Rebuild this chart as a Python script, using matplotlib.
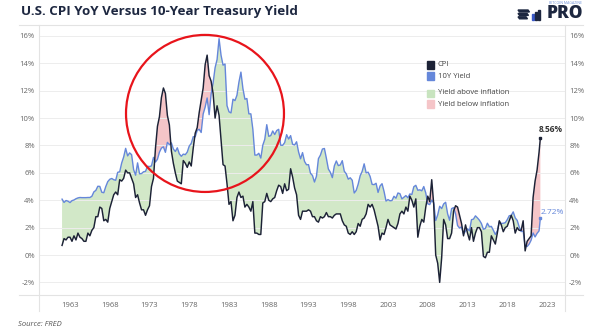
import numpy as np
import pandas as pd
import matplotlib
matplotlib.use("Agg")
import matplotlib.pyplot as plt
from matplotlib.lines import Line2D
from matplotlib.patches import Ellipse, Rectangle, Polygon

plt.rcParams['font.family'] = ['Open Sans', 'DejaVu Sans']

# Quarterly observations (Jan, Apr, Jul, Oct) from 1962 through Jan 2022, plus Mar 2022
cpi_yoy = [
    0.7, 1.2, 1.1, 1.3,   1.3, 1.0, 1.4, 1.1,   1.6, 1.3, 1.2, 1.0,   1.0, 1.6, 1.4, 1.8,
    2.0, 2.8, 2.8, 3.5,   3.4, 2.5, 2.6, 2.4,   3.4, 3.9, 4.4, 4.6,   4.4, 5.5, 5.4, 5.6,
    6.2, 6.0, 6.0, 5.6,   5.2, 4.2, 4.4, 3.8,   3.3, 3.3, 2.9, 3.3,   3.6, 5.0, 5.6, 7.8,
    9.4, 10.1, 11.5, 12.2, 11.8, 10.2, 9.5, 7.6, 6.7, 6.0, 5.4, 5.3,  5.2, 6.9, 6.7, 6.4,
    6.8, 6.5, 7.8, 8.9,   9.3, 10.4, 11.3, 12.2, 13.9, 14.6, 13.1, 12.7, 11.8, 10.0, 10.9, 10.2,
    8.4, 6.6, 6.5, 5.2,   3.7, 3.9, 2.5, 2.9,   4.2, 4.6, 4.2, 4.3,   3.5, 3.7, 3.5, 3.2,
    3.9, 1.6, 1.6, 1.5,   1.5, 3.8, 3.9, 4.5,   4.0, 3.9, 4.1, 4.2,   4.7, 5.1, 5.0, 4.5,
    5.2, 4.7, 4.8, 6.3,   5.7, 4.9, 4.4, 2.9,   2.6, 3.2, 3.2, 3.2,   3.3, 3.2, 2.8, 2.8,
    2.5, 2.4, 2.8, 2.7,   2.8, 3.1, 2.8, 2.8,   2.7, 2.9, 3.0, 3.0,   3.0, 2.5, 2.2, 2.1,
    1.6, 1.5, 1.7, 1.5,   1.7, 2.3, 2.1, 2.6,   2.7, 3.0, 3.7, 3.5,   3.7, 3.3, 2.7, 2.1,
    1.1, 1.6, 1.5, 2.0,   2.6, 2.2, 2.1, 2.0,   1.9, 2.3, 3.0, 3.2,   3.0, 3.5, 3.2, 4.3,
    4.0, 3.5, 4.1, 1.3,   2.1, 2.6, 2.4, 3.5,   4.3, 3.9, 5.5, 3.7,   0.0, -0.6, -2.0, -0.2,
    2.6, 2.2, 1.2, 1.2,   1.6, 3.2, 3.6, 3.5,   2.9, 2.3, 1.4, 2.2,   1.6, 1.1, 2.0, 1.0,
    1.6, 2.0, 2.0, 1.7,   -0.1, -0.2, 0.2, 0.2, 1.4, 1.1, 0.8, 1.6,   2.5, 2.2, 1.7, 2.0,
    2.1, 2.5, 2.9, 2.5,   1.6, 2.0, 1.8, 1.8,   2.5, 0.3, 1.0, 1.2,   1.4, 4.2, 5.4, 6.2,
    7.5, 8.56,
]

treasury_10y = [
    4.08, 3.84, 3.98, 3.93,  3.83, 3.97, 4.02, 4.11,  4.17, 4.20, 4.19, 4.19,  4.19, 4.20, 4.20, 4.29,
    4.61, 4.72, 5.02, 5.01,  4.58, 4.55, 5.00, 5.36,  5.53, 5.59, 5.50, 5.46,  6.04, 6.08, 6.72, 7.16,
    7.79, 7.24, 7.46, 7.33,  6.24, 5.83, 6.73, 5.93,  5.95, 6.08, 6.11, 6.48,  6.46, 6.51, 7.13, 6.79,
    6.99, 7.51, 7.81, 7.90,  7.50, 8.23, 8.06, 8.19,  7.74, 7.56, 7.83, 7.39,  7.21, 7.37, 7.33, 7.52,
    7.96, 8.15, 8.64, 8.64,  9.10, 9.18, 8.95, 10.30, 10.80, 11.47, 10.25, 11.75, 12.57, 13.68, 14.28, 15.80,
    14.59, 13.87, 13.95, 10.91, 10.46, 10.38, 11.38, 11.28, 11.67, 12.63, 13.36, 12.16, 11.38, 11.43, 10.31, 10.31,
    9.19, 7.30, 7.30, 7.43,  7.08, 8.02, 8.45, 9.52,  8.67, 8.72, 9.06, 8.80,  9.09, 9.18, 8.02, 8.01,
    8.21, 8.79, 8.47, 8.72,  8.09, 8.04, 8.27, 7.53,  7.03, 7.48, 6.84, 6.59,  6.60, 5.97, 5.81, 5.33,
    5.75, 7.04, 7.30, 7.74,  7.78, 7.06, 6.28, 6.04,  5.65, 6.51, 6.87, 6.53,  6.58, 6.89, 6.12, 5.93,
    5.54, 5.64, 5.46, 4.53,  4.72, 5.18, 5.79, 6.11,  6.66, 6.00, 6.05, 5.74,  5.16, 5.14, 5.24, 4.57,
    5.04, 5.21, 4.65, 3.94,  4.05, 3.96, 3.98, 4.29,  4.15, 4.53, 4.48, 4.10,  4.22, 4.34, 4.18, 4.46,
    4.42, 4.99, 5.09, 4.73,  4.76, 4.69, 5.00, 4.53,  3.74, 3.68, 4.01, 3.81,  2.52, 2.93, 3.56, 3.39,
    3.73, 3.85, 3.01, 2.54,  3.39, 3.46, 3.00, 2.15,  1.97, 2.05, 1.53, 1.75,  1.91, 1.76, 2.58, 2.62,
    2.86, 2.71, 2.54, 2.30,  1.88, 1.94, 2.32, 2.07,  2.09, 1.81, 1.50, 1.76,  2.43, 2.30, 2.32, 2.36,
    2.58, 2.87, 2.89, 3.15,  2.71, 2.53, 2.06, 1.71,  1.76, 0.66, 0.62, 0.79,  1.08, 1.61, 1.32, 1.58,
    1.76, 2.72,
]

dates = list(pd.date_range("1962-01-01", "2022-01-01", freq="QS")) + [pd.Timestamp("2022-03-01")]

year_ticks = list(range(1963, 2024, 5))
pct_ticks = list(range(-2, 17, 2))

# ---------------------------------------------------------------------------
W, H = 600, 332
fig = plt.figure(figsize=(W / 100, H / 100), dpi=100)
fig.patch.set_facecolor("white")


def fx(px):
    return px / W


def fy(py):
    return 1 - py / H


x = np.array([d.year + (d.month - 1) / 12 for d in dates])
cpi = np.array(cpi_yoy)
ten = np.array(treasury_10y)

left_px, right_px, top_px, bottom_px = 39, 565, 25, 295
ax = fig.add_axes([fx(left_px), fy(bottom_px), fx(right_px - left_px), (bottom_px - top_px) / H])
ax.set_facecolor("none")

# pixel-to-data scale: 1963 at x=70, 7.95 px per year; 0% at y=255, 13.69 px per point
x0 = 1963 + (left_px - 70) / 7.95
x1 = 1963 + (right_px - 70) / 7.95
y0 = (255 - bottom_px) / 13.69
y1 = (255 - top_px) / 13.69
ax.set_xlim(x0, x1)
ax.set_ylim(y0, y1)

green = "#d2e8c8"
pink = "#f5c5c8"
navy = "#1c2236"
blue = "#6587da"
dark = "#1d2740"

ax.fill_between(x, cpi, ten, where=ten >= cpi, interpolate=True, color=green, lw=0, zorder=1)
ax.fill_between(x, cpi, ten, where=ten < cpi, interpolate=True, color=pink, lw=0, zorder=1)
ax.plot(x, ten, color=blue, lw=1.0, zorder=3)
ax.plot(x, cpi, color=navy, lw=1.05, zorder=4)
ax.plot(x[-1:], cpi[-1:], marker="s", ms=2, color=navy, zorder=5)
ax.plot(x[-1:], ten[-1:], marker="s", ms=2, color=blue, zorder=5)

ax.annotate(f"{cpi[-1]:.2f}%", (x[-1], cpi[-1]), xytext=(-1, 2.5), textcoords="offset points",
            ha="left", va="bottom", fontsize=6, color="#333333", fontweight="bold")
ax.annotate(f"{ten[-1]:.2f}%", (x[-1], ten[-1]), xytext=(0.5, 1), textcoords="offset points",
            ha="left", va="bottom", fontsize=6, color=blue)

# highlighted 1970s-80s region
ax.add_patch(Ellipse((1979.98, 10.34), 19.87, 11.47, fill=False, ec="#e8141b", lw=1.6, zorder=6))

ax.set_yticks(pct_ticks)
ax.set_yticklabels([f"{t}%" for t in pct_ticks])
ax.set_xticks(year_ticks)
ax.set_xticklabels([str(t) for t in year_ticks])
ax.tick_params(axis="y", length=0, labelsize=5.5, labelcolor="#666666", pad=3,
               labelleft=True, labelright=True)
ax.tick_params(axis="x", length=0, labelsize=5.5, labelcolor="#666666", pad=5)
ax.grid(axis="y", color="#ededed", lw=0.7, zorder=0)
for s in ax.spines.values():
    s.set_visible(False)

# frame lines
frame_c = "#e3e3e3"
for (xa, ya, xb, yb) in [(19, top_px, 583, top_px), (19, bottom_px, 583, bottom_px),
                         (left_px, top_px, left_px, 311), (right_px, top_px, right_px, 311)]:
    fig.add_artist(Line2D([fx(xa), fx(xb)], [fy(ya), fy(yb)], color=frame_c, lw=0.8))

# title
fig.text(fx(21), fy(11), "U.S. CPI YoY Versus 10-Year Treasury Yield", fontsize=9.6,
         fontweight="bold", color=dark, va="center", ha="left")

# source
fig.text(fx(18), fy(325), "Source: FRED", fontsize=5.5, style="italic", color="#555555",
         va="center", ha="left")

# logo: striped mark, bars and wordmark
fig.text(fx(583), fy(14), "PRO", fontsize=12.5, fontweight="heavy", color=dark,
         va="center", ha="right")
fig.text(fx(582), fy(3.5), "BITCOIN MAGAZINE", fontsize=2.5, color="#6d8fd6",
         va="center", ha="right")
for i in range(3):
    yy = 10 + i * 3.4
    fig.add_artist(Polygon([(fx(518), fy(yy)), (fx(528 - i), fy(yy)), (fx(529.5 - i), fy(yy + 2)),
                            (fx(519.5), fy(yy + 2))], closed=True, color=dark,
                           transform=fig.transFigure))
for i, h in enumerate([6, 8, 10]):
    fig.add_artist(Rectangle((fx(531.5 + i * 3.2), fy(20)), fx(2), h / H,
                             color="#3b59c7" if i == 0 else dark, transform=fig.transFigure))

# legend
legend_items = [("CPI", navy, 65), ("10Y Yield", blue, 76),
                ("Yield above inflation", "#c8e4bf", 93), ("Yield below inflation", "#f5c5c8", 104)]
for label, col, ypx in legend_items:
    fig.add_artist(Rectangle((fx(427), fy(ypx + 3.5)), fx(7), 7 / H, color=col,
                             transform=fig.transFigure))
    fig.text(fx(438), fy(ypx), label, fontsize=5.5, color="#444444", va="center", ha="left")

fig.savefig("out.png", dpi=100, facecolor="white")
